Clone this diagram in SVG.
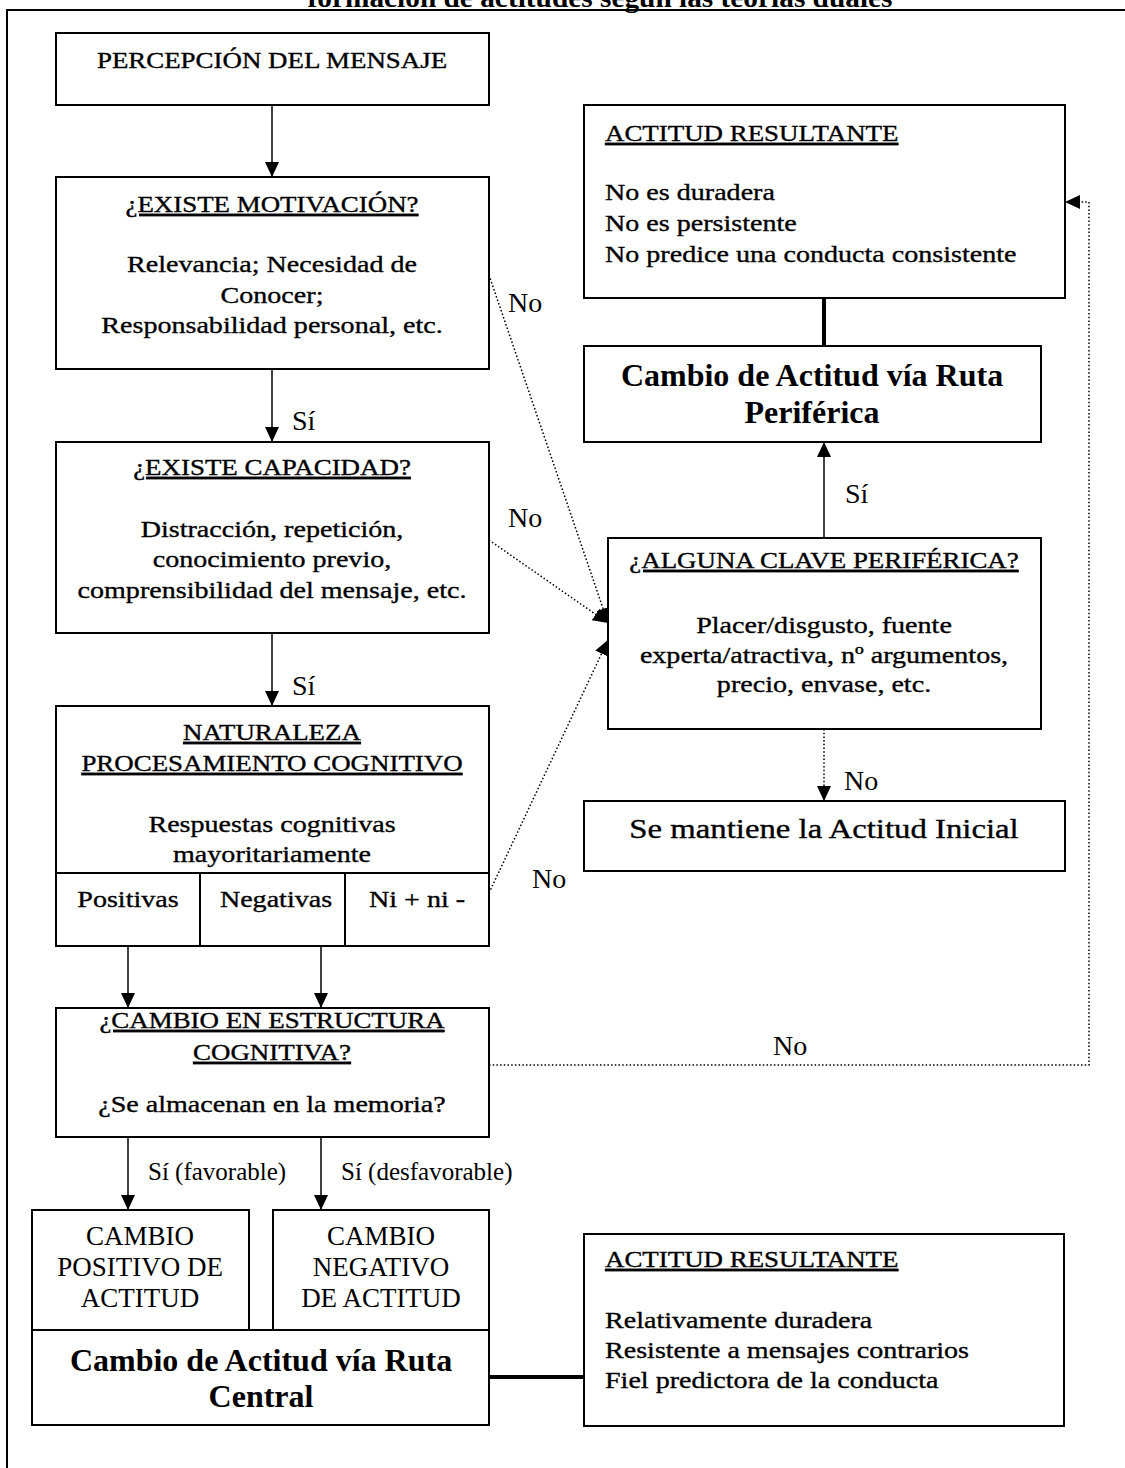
<svg xmlns="http://www.w3.org/2000/svg" width="1125" height="1468" viewBox="0 0 1125 1468">
<style>
.box{fill:#fff;stroke:#000;stroke-width:2}
.t{font-family:"Liberation Serif","Times New Roman",serif;fill:#000}
.g{font-size:24px;stroke:#000;stroke-width:0.35}
.gc{font-size:23px;stroke:#000;stroke-width:0.35}
.u{text-decoration:underline}
.lbl{font-size:28px}
.sm{font-size:25px}
.tm{font-size:27px}
.b{font-weight:bold;font-size:32px}
.c{text-anchor:middle}
.arrow{stroke:#000;stroke-width:1.5;fill:none;marker-end:url(#ah)}
.dota{stroke:#000;stroke-width:1.5;stroke-dasharray:1.5 2.2;fill:none;marker-end:url(#ah)}
.thick{stroke:#000;stroke-width:4;fill:none}
.frame{stroke:#000;stroke-width:2;fill:none}
</style>
<defs>
<marker id="ah" markerUnits="userSpaceOnUse" markerWidth="15" markerHeight="14" refX="15" refY="7" orient="auto">
<path d="M0,0 L15,7 L0,14 z" fill="#000"/>
</marker>
</defs>
<rect width="1125" height="1468" fill="#fff"/>
<text class="t c" x="600" y="7" font-size="27" font-weight="bold" textLength="585" lengthAdjust="spacingAndGlyphs">formación de actitudes según las teorías duales</text>
<path class="frame" d="M7,1468 V10 H1125"/>

<g id="connectors">
<line class="arrow" x1="272" y1="105" x2="272" y2="177"/>
<line class="arrow" x1="272" y1="369" x2="272" y2="442"/>
<line class="arrow" x1="272" y1="633" x2="272" y2="706"/>
<line class="arrow" x1="128" y1="946" x2="128" y2="1008"/>
<line class="arrow" x1="321" y1="946" x2="321" y2="1008"/>
<line class="arrow" x1="128" y1="1137" x2="128" y2="1210"/>
<line class="arrow" x1="321" y1="1137" x2="321" y2="1210"/>
<line class="arrow" x1="824" y1="538" x2="824" y2="442"/>
<line class="dota" x1="824" y1="729" x2="824" y2="801"/>
<line class="dota" x1="489" y1="275" x2="608" y2="623"/>
<line class="dota" x1="489" y1="540" x2="608" y2="623"/>
<line class="dota" x1="489" y1="893" x2="608" y2="640"/>
<path class="dota" d="M489,1065 H1089 V202 H1065"/>
<line class="thick" x1="824" y1="298" x2="824" y2="346"/>
<line class="thick" x1="489" y1="1377" x2="584" y2="1377"/>
<text class="t lbl" x="292" y="430">Sí</text>
<text class="t lbl" x="292" y="695">Sí</text>
<text class="t lbl" x="845" y="503">Sí</text>
<text class="t lbl" x="508" y="312">No</text>
<text class="t lbl" x="508" y="527">No</text>
<text class="t lbl" x="532" y="888">No</text>
<text class="t lbl" x="844" y="790">No</text>
<text class="t lbl" x="773" y="1055">No</text>
<text class="t sm" x="148" y="1180">Sí (favorable)</text>
<text class="t sm" x="341" y="1180">Sí (desfavorable)</text>
</g>

<g id="percepcion">
<rect class="box" x="56" y="33" width="433" height="72"/>
<g transform="translate(272,0) scale(1.17,1)"><text class="t gc c" x="0" y="68">PERCEPCIÓN DEL MENSAJE</text></g>
</g>

<g id="motivacion">
<rect class="box" x="56" y="177" width="433" height="192"/>
<g transform="translate(272,0) scale(1.17,1)">
<text class="t gc c u" x="0" y="212">¿EXISTE MOTIVACIÓN?</text>
<text class="t g c" x="0" y="272">Relevancia; Necesidad de</text>
<text class="t g c" x="0" y="303">Conocer;</text>
<text class="t g c" x="0" y="333">Responsabilidad personal, etc.</text>
</g>
</g>

<g id="capacidad">
<rect class="box" x="56" y="442" width="433" height="191"/>
<g transform="translate(272,0) scale(1.17,1)">
<text class="t gc c u" x="0" y="475">¿EXISTE CAPACIDAD?</text>
<text class="t g c" x="0" y="537">Distracción, repetición,</text>
<text class="t g c" x="0" y="567">conocimiento previo,</text>
<text class="t g c" x="0" y="598">comprensibilidad del mensaje, etc.</text>
</g>
</g>

<g id="naturaleza">
<rect class="box" x="56" y="706" width="433" height="240"/>
<line class="box" x1="56" y1="873" x2="489" y2="873"/>
<line class="box" x1="200" y1="873" x2="200" y2="946"/>
<line class="box" x1="345" y1="873" x2="345" y2="946"/>
<g transform="translate(272,0) scale(1.17,1)">
<text class="t gc c u" x="0" y="740">NATURALEZA</text>
<text class="t gc c u" x="0" y="771">PROCESAMIENTO COGNITIVO</text>
<text class="t g c" x="0" y="832">Respuestas cognitivas</text>
<text class="t g c" x="0" y="862">mayoritariamente</text>
</g>
<g transform="translate(128,0) scale(1.17,1)"><text class="t g c" x="0" y="907">Positivas</text></g>
<g transform="translate(276,0) scale(1.17,1)"><text class="t g c" x="0" y="907">Negativas</text></g>
<g transform="translate(417,0) scale(1.17,1)"><text class="t g c" x="0" y="907">Ni + ni -</text></g>
</g>

<g id="estructura">
<rect class="box" x="56" y="1008" width="433" height="129"/>
<g transform="translate(272,0) scale(1.17,1)">
<text class="t gc c u" x="0" y="1028">¿CAMBIO EN ESTRUCTURA</text>
<text class="t gc c u" x="0" y="1060">COGNITIVA?</text>
<text class="t g c" x="0" y="1112">¿Se almacenan en la memoria?</text>
</g>
</g>

<g id="positivo">
<rect class="box" x="32" y="1210" width="217" height="120"/>
<text class="t tm c" x="140" y="1245">CAMBIO</text>
<text class="t tm c" x="140" y="1276">POSITIVO DE</text>
<text class="t tm c" x="140" y="1307">ACTITUD</text>
</g>

<g id="negativo">
<rect class="box" x="273" y="1210" width="216" height="120"/>
<text class="t tm c" x="381" y="1245">CAMBIO</text>
<text class="t tm c" x="381" y="1276">NEGATIVO</text>
<text class="t tm c" x="381" y="1307">DE ACTITUD</text>
</g>

<g id="ruta-central">
<rect class="box" x="32" y="1330" width="457" height="95"/>
<text class="t b c" x="261" y="1371">Cambio de Actitud vía Ruta</text>
<text class="t b c" x="261" y="1407">Central</text>
</g>

<g id="resultante-central">
<rect class="box" x="584" y="1234" width="480" height="192"/>
<g transform="translate(605,0) scale(1.17,1)">
<text class="t gc u" x="0" y="1267">ACTITUD RESULTANTE</text>
<text class="t g" x="0" y="1328">Relativamente duradera</text>
<text class="t g" x="0" y="1358">Resistente a mensajes contrarios</text>
<text class="t g" x="0" y="1388">Fiel predictora de la conducta</text>
</g>
</g>

<g id="resultante-periferica">
<rect class="box" x="584" y="105" width="481" height="193"/>
<g transform="translate(605,0) scale(1.17,1)">
<text class="t gc u" x="0" y="141">ACTITUD RESULTANTE</text>
<text class="t g" x="0" y="200">No es duradera</text>
<text class="t g" x="0" y="231">No es persistente</text>
<text class="t g" x="0" y="262">No predice una conducta consistente</text>
</g>
</g>

<g id="ruta-periferica">
<rect class="box" x="584" y="346" width="457" height="96"/>
<text class="t b c" x="812" y="386">Cambio de Actitud vía Ruta</text>
<text class="t b c" x="812" y="423">Periférica</text>
</g>

<g id="clave-periferica">
<rect class="box" x="608" y="538" width="433" height="191"/>
<g transform="translate(824,0) scale(1.17,1)">
<text class="t gc c u" x="0" y="568">¿ALGUNA CLAVE PERIFÉRICA?</text>
<text class="t g c" x="0" y="633">Placer/disgusto, fuente</text>
<text class="t g c" x="0" y="663">experta/atractiva, nº argumentos,</text>
<text class="t g c" x="0" y="692">precio, envase, etc.</text>
</g>
</g>

<g id="actitud-inicial">
<rect class="box" x="584" y="801" width="481" height="70"/>
<g transform="translate(824,0) scale(1.17,1)"><text class="t c" font-size="28" stroke="#000" stroke-width="0.35" x="0" y="838">Se mantiene la Actitud Inicial</text></g>
</g>
</svg>
